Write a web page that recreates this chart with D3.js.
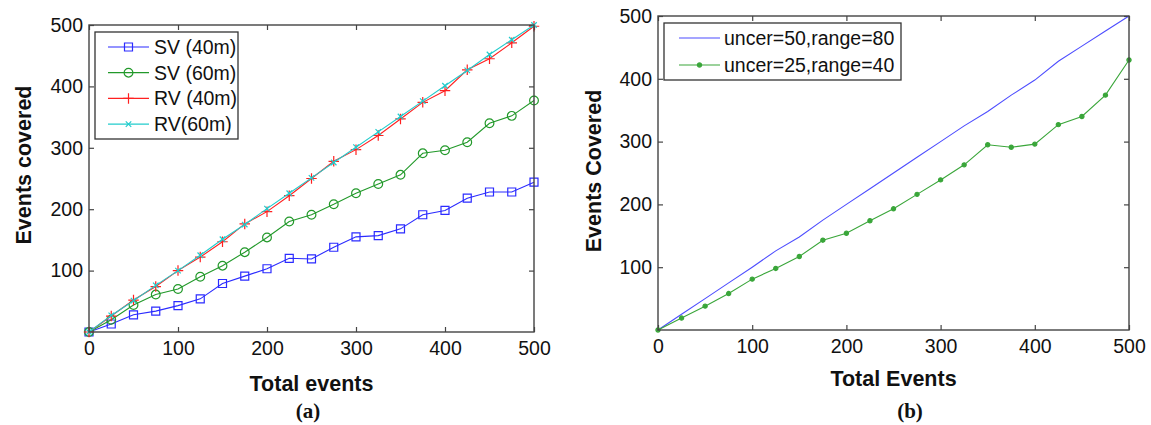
<!DOCTYPE html>
<meta charset="utf-8">
<style>
  body { margin: 0; background: #fff; }

  .tick text {
    font-family: Arial, "Liberation Sans", sans-serif;
    font-size: 19.5px;
    fill: #111;
  }

  .domain { display: none; }

  .tick line {
    stroke: #444;
    stroke-width: 1.2px;
  }

  .frame {
    fill: none;
    stroke: #444;
    stroke-width: 1.4px;
  }

  .line {
    fill: none;
    stroke-width: 1.1px;
  }

  .title {
    font-family: Arial, "Liberation Sans", sans-serif;
    font-weight: bold;
    font-size: 21.5px;
    fill: #111;
  }

  .caption {
    font-family: "Liberation Serif", "Times New Roman", serif;
    font-weight: bold;
    font-size: 21px;
    fill: #111;
  }

  .legend text {
    font-family: Arial, "Liberation Sans", sans-serif;
    font-size: 19.5px;
    fill: #111;
  }

  .legend rect {
    fill: #fff;
    stroke: #333;
    stroke-width: 1.3px;
  }
</style>

<body>
  <script src="https://d3js.org/d3.v7.min.js"></script>
  <script>

    // total events on the x axis (both panels)
    var totalEvents = [0, 25, 50, 75, 100, 125, 150, 175, 200, 225, 250, 275, 300, 325, 350, 375, 400, 425, 450, 475, 500];
    var xTicks = [0, 100, 200, 300, 400, 500];
    var yTicks = [100, 200, 300, 400, 500];

    // panel (a): events covered by static / roaming vehicles
    var sv40 = [0, 13, 28, 34, 43, 54, 79, 91, 103, 120, 119, 138, 155, 157, 168, 191, 198, 218, 228, 228, 244];
    var sv60 = [0, 20, 44, 61, 70, 90, 108, 130, 154, 180, 191, 208, 226, 241, 256, 291, 296, 309, 340, 352, 377];
    var rv40 = [0, 26, 52, 74, 100, 122, 147, 176, 196, 222, 250, 278, 297, 320, 347, 374, 393, 427, 445, 471, 498];
    var rv60 = [0, 27, 51, 76, 100, 125, 151, 175, 201, 226, 251, 276, 301, 326, 351, 376, 401, 426, 452, 476, 500];

    // panel (b): uncertainty / range settings
    var uncer50 = [0, 25, 50, 75, 100, 126, 148, 175, 200, 225, 250, 275, 300, 325, 348, 374, 398, 428, 452, 476, 500];
    var uncer25 = [0, 19, 38, 58, 81, 98, 117, 143, 154, 174, 193, 216, 239, 263, 295, 291, 296, 327, 340, 374, 430];

    // custom stroke markers for d3.symbol
    var symbolPlusLine = {
      draw: function (ctx, size) {
        var r = Math.sqrt(size) / 2;
        ctx.moveTo(-r, 0); ctx.lineTo(r, 0);
        ctx.moveTo(0, -r); ctx.lineTo(0, r);
      }
    };
    var symbolTimesLine = {
      draw: function (ctx, size) {
        var r = Math.sqrt(size) / 2;
        ctx.moveTo(-r, -r); ctx.lineTo(r, r);
        ctx.moveTo(-r, r); ctx.lineTo(r, -r);
      }
    };

    var markers = {
      square: { type: d3.symbolSquare, size: 64, fill: "none" },
      circle: { type: d3.symbolCircle, size: 60, fill: "none" },
      plus: { type: symbolPlusLine, size: 110, fill: "none" },
      times: { type: symbolTimesLine, size: 30, fill: "none" },
      dot: { type: d3.symbolCircle, size: 14, fill: "fill" }
    };

    var svg = d3.select("body").append("svg")
      .attr("width", 1151)
      .attr("height", 425);

    function drawMarker(sel, name, color) {
      var m = markers[name];
      sel.attr("d", d3.symbol().type(m.type).size(m.size))
        .attr("fill", m.fill == "fill" ? color : "none")
        .attr("stroke", color)
        .attr("stroke-width", 1.2);
    }

    function drawPanel(p) {
      var g = svg.append("g")
        .attr("transform", "translate(" + p.left + "," + p.top + ")");

      var x = d3.scaleLinear().domain([0, 500]).range([0, p.width]);
      var y = d3.scaleLinear().domain([0, 500]).range([p.height, 0]);

      // axes with inward ticks on all four sides
      g.append("g")
        .attr("transform", "translate(0," + p.height + ")")
        .call(d3.axisBottom(x).tickValues(xTicks).tickSizeInner(-5).tickSizeOuter(0).tickPadding(9));
      g.append("g")
        .call(d3.axisTop(x).tickValues(xTicks).tickSizeInner(-5).tickSizeOuter(0).tickFormat(""));
      g.append("g")
        .call(d3.axisLeft(y).tickValues(yTicks).tickSizeInner(-5).tickSizeOuter(0).tickPadding(6));
      g.append("g")
        .attr("transform", "translate(" + p.width + ",0)")
        .call(d3.axisRight(y).tickValues(yTicks).tickSizeInner(-5).tickSizeOuter(0).tickFormat(""));

      var line = d3.line()
        .x(function (d, i) { return x(totalEvents[i]); })
        .y(function (d) { return y(d); });

      p.series.forEach(function (s) {
        g.append("path")
          .datum(s.values)
          .attr("class", "line")
          .attr("stroke", s.color)
          .attr("d", line);

        if (s.marker) {
          g.selectAll(null)
            .data(s.values)
            .enter()
            .append("path")
            .attr("transform", function (d, i) { return "translate(" + x(totalEvents[i]) + "," + y(d) + ")"; })
            .call(drawMarker, s.marker, s.color);
        }
      });

      g.append("rect")
        .attr("class", "frame")
        .attr("width", p.width)
        .attr("height", p.height);

      // legend
      var lg = g.append("g").attr("class", "legend")
        .attr("transform", "translate(" + p.legend.x + "," + p.legend.y + ")");
      lg.append("rect")
        .attr("width", p.legend.w)
        .attr("height", p.legend.h);
      p.series.forEach(function (s, i) {
        var ry = p.legend.row0 + i * p.legend.step;
        lg.append("line")
          .attr("x1", p.legend.lx0).attr("x2", p.legend.lx1)
          .attr("y1", ry).attr("y2", ry)
          .attr("stroke", s.color)
          .attr("stroke-width", 1.2);
        if (s.marker) {
          lg.append("path")
            .attr("transform", "translate(" + (p.legend.lx0 + p.legend.lx1) / 2 + "," + ry + ")")
            .call(drawMarker, s.marker, s.color);
        }
        lg.append("text")
          .attr("x", p.legend.tx)
          .attr("y", ry)
          .attr("dy", "0.35em")
          .text(s.name);
      });

      // axis titles and caption
      svg.append("text")
        .attr("class", "title")
        .attr("text-anchor", "middle")
        .attr("x", p.left + p.width / 2)
        .attr("y", p.xTitleY)
        .text(p.xTitle);
      svg.append("text")
        .attr("class", "title")
        .attr("text-anchor", "middle")
        .attr("transform", "translate(" + p.yTitleX + "," + p.yTitleY + ") rotate(-90)")
        .text(p.yTitle);
      svg.append("text")
        .attr("class", "caption")
        .attr("text-anchor", "middle")
        .attr("x", p.captionX)
        .attr("y", 418)
        .text(p.caption);
    }

    drawPanel({
      left: 89, top: 25, width: 445, height: 307,
      series: [
        { name: "SV (40m)", values: sv40, color: "#2b2bff", marker: "square" },
        { name: "SV (60m)", values: sv60, color: "#22992a", marker: "circle" },
        { name: "RV (40m)", values: rv40, color: "#ff2020", marker: "plus" },
        { name: "RV(60m)", values: rv60, color: "#22cccc", marker: "times" }
      ],
      legend: { x: 6, y: 7, w: 143, h: 107, row0: 15, step: 25.7, lx0: 13, lx1: 54, tx: 59 },
      xTitle: "Total events", xTitleY: 391,
      yTitle: "Events covered", yTitleX: 31, yTitleY: 165,
      caption: "(a)", captionX: 308
    });

    drawPanel({
      left: 658, top: 16, width: 471, height: 314,
      series: [
        { name: "uncer=50,range=80", values: uncer50, color: "#4d4dff", marker: null },
        { name: "uncer=25,range=40", values: uncer25, color: "#3aa63a", marker: "dot" }
      ],
      legend: { x: 6, y: 7, w: 237, h: 57, row0: 15, step: 27, lx0: 15, lx1: 56, tx: 60 },
      xTitle: "Total Events", xTitleY: 386,
      yTitle: "Events Covered", yTitleX: 601, yTitleY: 171,
      caption: "(b)", captionX: 910
    });

  </script>
</body>
